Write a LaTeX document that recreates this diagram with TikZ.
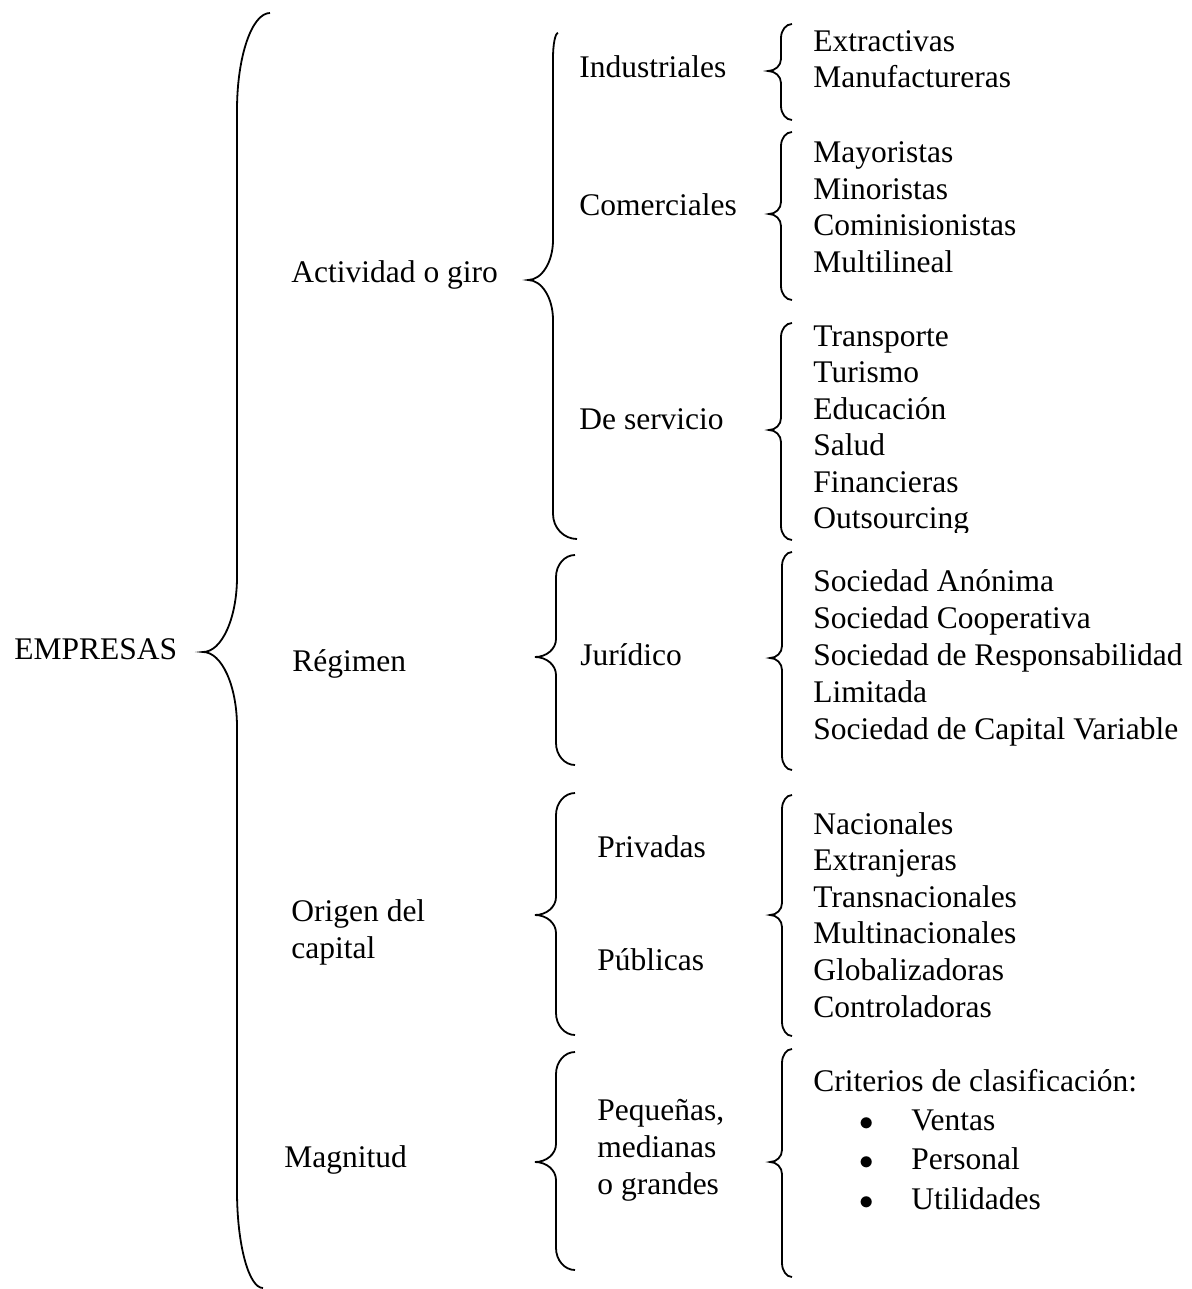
\documentclass[tikz,border=0pt]{standalone}
\usepackage{fontspec}
\setmainfont{Liberation Serif}
% llave: x fin arriba, x fin abajo, x recta, x punta, y arriba, y punta, y abajo, curva extremos, curva punta
\newcommand{\llave}[9]{%
  \draw[line width=0.9pt] (#1,#5) .. controls ({#3+0.45*(#1-#3)},#5) and (#3,{#5+0.45*#8}) .. (#3,{#5+#8})
    -- (#3,{#6-#9}) .. controls (#3,{#6-0.45*#9}) and ({#4+0.55*(#3-#4)},#6) .. (#4,#6)
    .. controls ({#4+0.55*(#3-#4)},#6) and (#3,{#6+0.45*#9}) .. (#3,{#6+#9})
    -- (#3,{#7-#8}) .. controls (#3,{#7-0.45*#8}) and ({#3+0.45*(#2-#3)},#7) .. (#2,#7);}
\begin{document}
\begin{tikzpicture}[x=0.5pt,y=-0.5pt,
    txt/.style = {anchor=base west, inner sep=0pt, font=\fontsize{15.75}{18}\selectfont},
    punto/.style = {anchor=base, inner sep=0pt, font=\fontsize{15.75}{18}\selectfont}]
\useasboundingbox (0,0) rectangle (1191,1289);
% primer nivel
\node[txt] (emp) at (14,659) {EMPRESAS};
\llave{270}{263}{237}{203}{13}{652}{1288}{97}{75}
% segundo nivel
\node[txt] (act) at (291,282) {Actividad o giro};
\node[txt] (reg) at (292,671) {Régimen};
\node[txt] (ori) at (291,921) {Origen del};
\node[txt] (cap) at (291,958) {capital};
\node[txt] (mag) at (284,1167) {Magnitud};
\llave{558}{577}{553}{528}{33}{280}{539}{25}{40}
\llave{575}{575}{556}{535}{555}{657}{765}{22}{18}
\llave{575}{575}{556}{535}{793}{915}{1035}{22}{18}
\llave{575}{575}{556}{535}{1052}{1162}{1270}{22}{18}
% tercer nivel
\node[txt] (ind) at (579,78) {Industriales};
\node[txt] (com) at (579,216) {Comerciales};
\node[txt] (ser) at (579,429) {De servicio};
\node[txt] (jur) at (580,665) {Jurídico};
\node[txt] (pri) at (597,857) {Privadas};
\node[txt] (pub) at (597,970) {Públicas};
\node[txt] (peq) at (597,1120) {Pequeñas,};
\node[txt] (med) at (597,1157) {medianas};
\node[txt] (gra) at (597,1194) {o grandes};
\llave{792}{792}{781}{768}{24}{71}{120}{14}{12}
\llave{792}{792}{781}{769}{132}{214}{300}{14}{12}
\llave{792}{792}{781}{769}{323}{430}{540}{14}{12}
\llave{792}{792}{782}{770}{552}{658}{770}{14}{12}
\llave{792}{792}{782}{770}{795}{915}{1036}{14}{12}
\llave{792}{792}{782}{770}{1049}{1162}{1277}{14}{12}
% cuarto nivel
\foreach \t [count=\i from 0] in {Extractivas,Manufactureras}
  \node[txt] (ext\i) at (813,{52+36*\i}) {\t};
\foreach \t [count=\i from 0] in {Mayoristas,Minoristas,Cominisionistas,Multilineal}
  \node[txt] (may\i) at (813,{162.5+36.5*\i}) {\t};
\begin{scope}
  \clip (800,300) rectangle (1100,532);
  \foreach \t [count=\i from 0] in {Transporte,Turismo,Educación,Salud,Financieras,Outsourcing}
    \node[txt] (tra\i) at (813,{346+36.5*\i}) {\t};
\end{scope}
\foreach \t [count=\i from 0] in {Sociedad Anónima,Sociedad Cooperativa,Sociedad de Responsabilidad,Limitada,Sociedad de Capital Variable}
  \node[txt] (soc\i) at (813,{591+37*\i}) {\t};
\foreach \t [count=\i from 0] in {Nacionales,Extranjeras,Transnacionales,Multinacionales,Globalizadoras,Controladoras}
  \node[txt] (nac\i) at (813,{834+36.6*\i}) {\t};
\node[txt] (cri) at (813,1091) {Criterios de clasificación:};
\foreach \t [count=\i from 0] in {Ventas,Personal,Utilidades} {
  \node[punto] (bul\i) at (867,{1130+39.5*\i}) {$\bullet$};
  \node[txt] (crit\i) at (911,{1130+39.5*\i}) {\t};
}
\end{tikzpicture}
\end{document}
